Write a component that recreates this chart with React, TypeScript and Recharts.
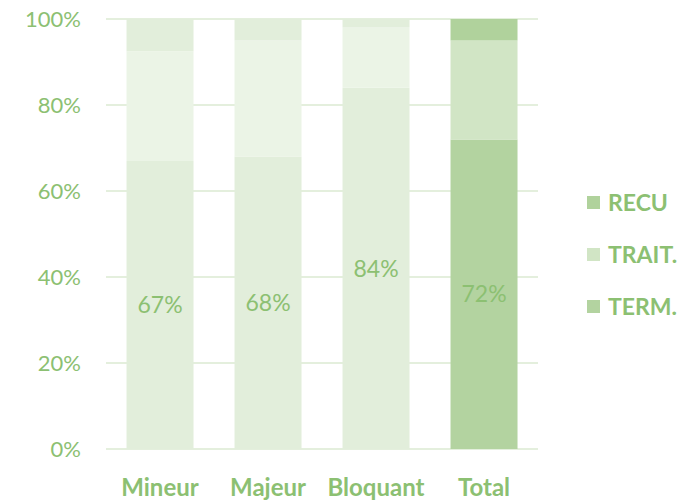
import React from "react";
import { BarChart, Bar, XAxis, YAxis, CartesianGrid, Cell, LabelList } from "recharts";

const categories = ["Mineur", "Majeur", "Bloquant", "Total"];
const termValues = [67, 68, 84, 72];
const traitValues = [25.5, 27, 14, 23];
const recuValues = [7.5, 5, 2, 5];
const yTicks = [0, 20, 40, 60, 80, 100];

const data = categories.map((name, i) => ({
  name,
  term: termValues[i],
  trait: traitValues[i],
  recu: recuValues[i],
}));

const TEXT = "#8cc072";
const FONT = "Lato, 'Open Sans', sans-serif";
const light = { term: "#e2eedb", trait: "#ebf4e6", recu: "#e2eedb" };
const dark = { term: "#b3d3a0", trait: "#d1e5c5", recu: "#b0d29c" };

const legendItems = [
  { key: "recu", label: "RECU" },
  { key: "trait", label: "TRAIT." },
  { key: "term", label: "TERM." },
];

const LegendBox = () => (
  <div style={{ position: "absolute", left: 587, top: 176, fontFamily: FONT }}>
    {legendItems.map((it) => (
      <div key={it.key} style={{ display: "flex", alignItems: "center", height: 52 }}>
        <div style={{ width: 13, height: 13, background: (dark as any)[it.key], marginRight: 8 }} />
        <span style={{ color: TEXT, fontWeight: 700, fontSize: 23 }}>{it.label}</span>
      </div>
    ))}
  </div>
);

export default function App() {
  return (
    <div style={{ position: "absolute", left: 0, top: 0, width: 685, height: 500, background: "#fff" }}>
      <BarChart
        width={685}
        height={500}
        data={data}
        margin={{ top: 19, right: 147, bottom: 11, left: 0 }}
        barCategoryGap="19%"
      >
        <CartesianGrid vertical={false} stroke="#e4efdd" strokeWidth={2} />
        <XAxis
          dataKey="name"
          axisLine={false}
          tickLine={false}
          height={40}
          tickMargin={24}
          tick={{ fill: TEXT, fontSize: 24, fontWeight: 700, fontFamily: FONT }}
        />
        <YAxis
          width={106}
          domain={[0, 100]}
          ticks={yTicks}
          axisLine={false}
          tickLine={false}
          tickMargin={19}
          tickFormatter={(v: number) => `${v}%`}
          tick={{ fill: TEXT, fontSize: 22, fontFamily: FONT }}
        />
        <Bar dataKey="term" stackId="a" isAnimationActive={false}>
          {data.map((d, i) => (
            <Cell key={i} fill={i === 3 ? dark.term : light.term} />
          ))}
          <LabelList
            dataKey="term"
            position="center"
            formatter={(v: any) => `${v}%`}
            style={{ fill: TEXT, fontSize: 23, fontFamily: FONT }}
          />
        </Bar>
        <Bar dataKey="trait" stackId="a" isAnimationActive={false}>
          {data.map((d, i) => (
            <Cell key={i} fill={i === 3 ? dark.trait : light.trait} />
          ))}
        </Bar>
        <Bar dataKey="recu" stackId="a" isAnimationActive={false}>
          {data.map((d, i) => (
            <Cell key={i} fill={i === 3 ? dark.recu : light.recu} />
          ))}
        </Bar>
      </BarChart>
      <LegendBox />
    </div>
  );
}
